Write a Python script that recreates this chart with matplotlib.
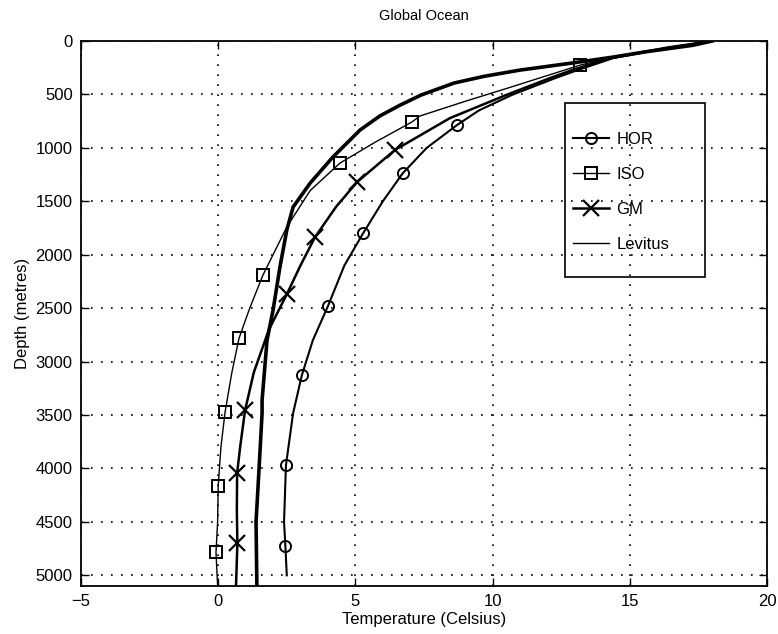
import matplotlib
matplotlib.use("Agg")
import matplotlib.pyplot as plt
from matplotlib.lines import Line2D
from matplotlib.patches import Rectangle

plt.rcParams['font.family'] = ['Liberation Sans', 'DejaVu Sans']

# temperature (Celsius) against depth (metres)
hor_depth = [0, 60, 160, 272, 346, 505, 650, 787, 1000, 1236, 1500, 1800, 2100, 2481,
             2800, 3127, 3483, 3970, 4500, 4728, 5000]
hor_temp = [18.0, 16.5, 14.4, 13.1, 12.3, 10.7, 9.5, 8.7, 7.6, 6.73, 6.0, 5.28, 4.6, 4.0,
            3.45, 3.05, 2.73, 2.47, 2.4, 2.45, 2.5]
hor_marks = [7, 9, 11, 13, 15, 17, 19]

iso_depth = [0, 60, 160, 225, 440, 562, 702, 758, 950, 1142, 1400, 1741, 2191, 2500,
             2781, 3100, 3474, 3800, 4167, 4500, 4785, 5100]
iso_temp = [18.0, 16.4, 14.3, 13.2, 10.56, 9.03, 7.35, 7.06, 5.7, 4.44, 3.35, 2.5, 1.63,
            1.15, 0.76, 0.5, 0.25, 0.1, 0.0, -0.02, -0.08, -0.02]
iso_marks = [3, 7, 9, 12, 14, 16, 18, 20]

gm_depth = [0, 60, 160, 272, 346, 505, 721, 1020, 1320, 1550, 1835, 2100, 2370, 2700,
            3100, 3455, 3800, 4045, 4400, 4700, 5100]
gm_temp = [18.0, 16.4, 14.3, 12.9, 12.1, 10.5, 8.45, 6.44, 5.06, 4.3, 3.53, 3.0, 2.5,
           1.85, 1.3, 0.98, 0.8, 0.69, 0.68, 0.7, 0.65]
gm_marks = [7, 8, 10, 12, 15, 17, 19]

lev_depth = [0, 40, 100, 150, 206, 272, 330, 393, 505, 600, 700, 833, 1086, 1330, 1554,
             1770, 2116, 2519, 2800, 3361, 3483, 4000, 4500, 5100]
lev_temp = [18.0, 17.3, 15.6, 14.4, 12.9, 11.0, 9.7, 8.6, 7.4, 6.63, 5.9, 5.17, 4.18,
            3.35, 2.73, 2.5, 2.25, 2.0, 1.78, 1.6, 1.6, 1.49, 1.38, 1.41]

labels = ["HOR", "ISO", "GM", "Levitus"]
xticks = [-5, 0, 5, 10, 15, 20]
yticks = list(range(0, 5001, 500))

fig = plt.figure(figsize=(7.78, 6.34), dpi=100)
ax = fig.add_axes([0.1041, 0.0757, 0.8817, 0.8596])

ax.plot(hor_temp, hor_depth, color='k', lw=1.5, marker='o', ms=8, mfc='none',
        mew=1.4, markevery=hor_marks)
ax.plot(iso_temp, iso_depth, color='k', lw=1.0, marker='s', ms=8, mfc='none',
        mew=1.4, markevery=iso_marks)
ax.plot(gm_temp, gm_depth, color='k', lw=1.8, marker='x', ms=11, mew=1.6,
        markevery=gm_marks)
ax.plot(lev_temp, lev_depth, color='k', lw=2.6)

ax.set_xlim(-5, 20)
ax.set_ylim(5100, 0)
ax.set_xticks(xticks)
ax.set_yticks(yticks)
ax.grid(True, color='k', linestyle=(0, (1, 5)), lw=1.2)
ax.tick_params(direction='in', length=6, width=1, top=True, right=True,
               labelsize=12, pad=6)
for s in ax.spines.values():
    s.set_linewidth(1.3)

ax.set_title("Global Ocean", fontsize=10.5, pad=15)
ax.set_xlabel("Temperature (Celsius)", fontsize=12, labelpad=2)
ax.set_ylabel("Depth (metres)", fontsize=12, labelpad=4)

handles = [
    Line2D([], [], color='k', lw=1.5, marker='o', ms=8, mfc='none', mew=1.4),
    Line2D([], [], color='k', lw=1.0, marker='s', ms=8, mfc='none', mew=1.4),
    Line2D([], [], color='k', lw=1.8, marker='x', ms=11, mew=1.6),
    Line2D([], [], color='k', lw=1.0),
]
ax.add_patch(Rectangle((0.706, 0.567), 0.204, 0.319, transform=ax.transAxes,
                       fill=False, edgecolor='k', lw=1.2, zorder=5))
ax.legend(handles, labels, loc='upper left', bbox_to_anchor=(0.717, 0.833),
          frameon=False, borderpad=0, borderaxespad=0, handlelength=2.2,
          handletextpad=0.4, labelspacing=1.2, fontsize=12)

fig.savefig("out.png", dpi=100)
